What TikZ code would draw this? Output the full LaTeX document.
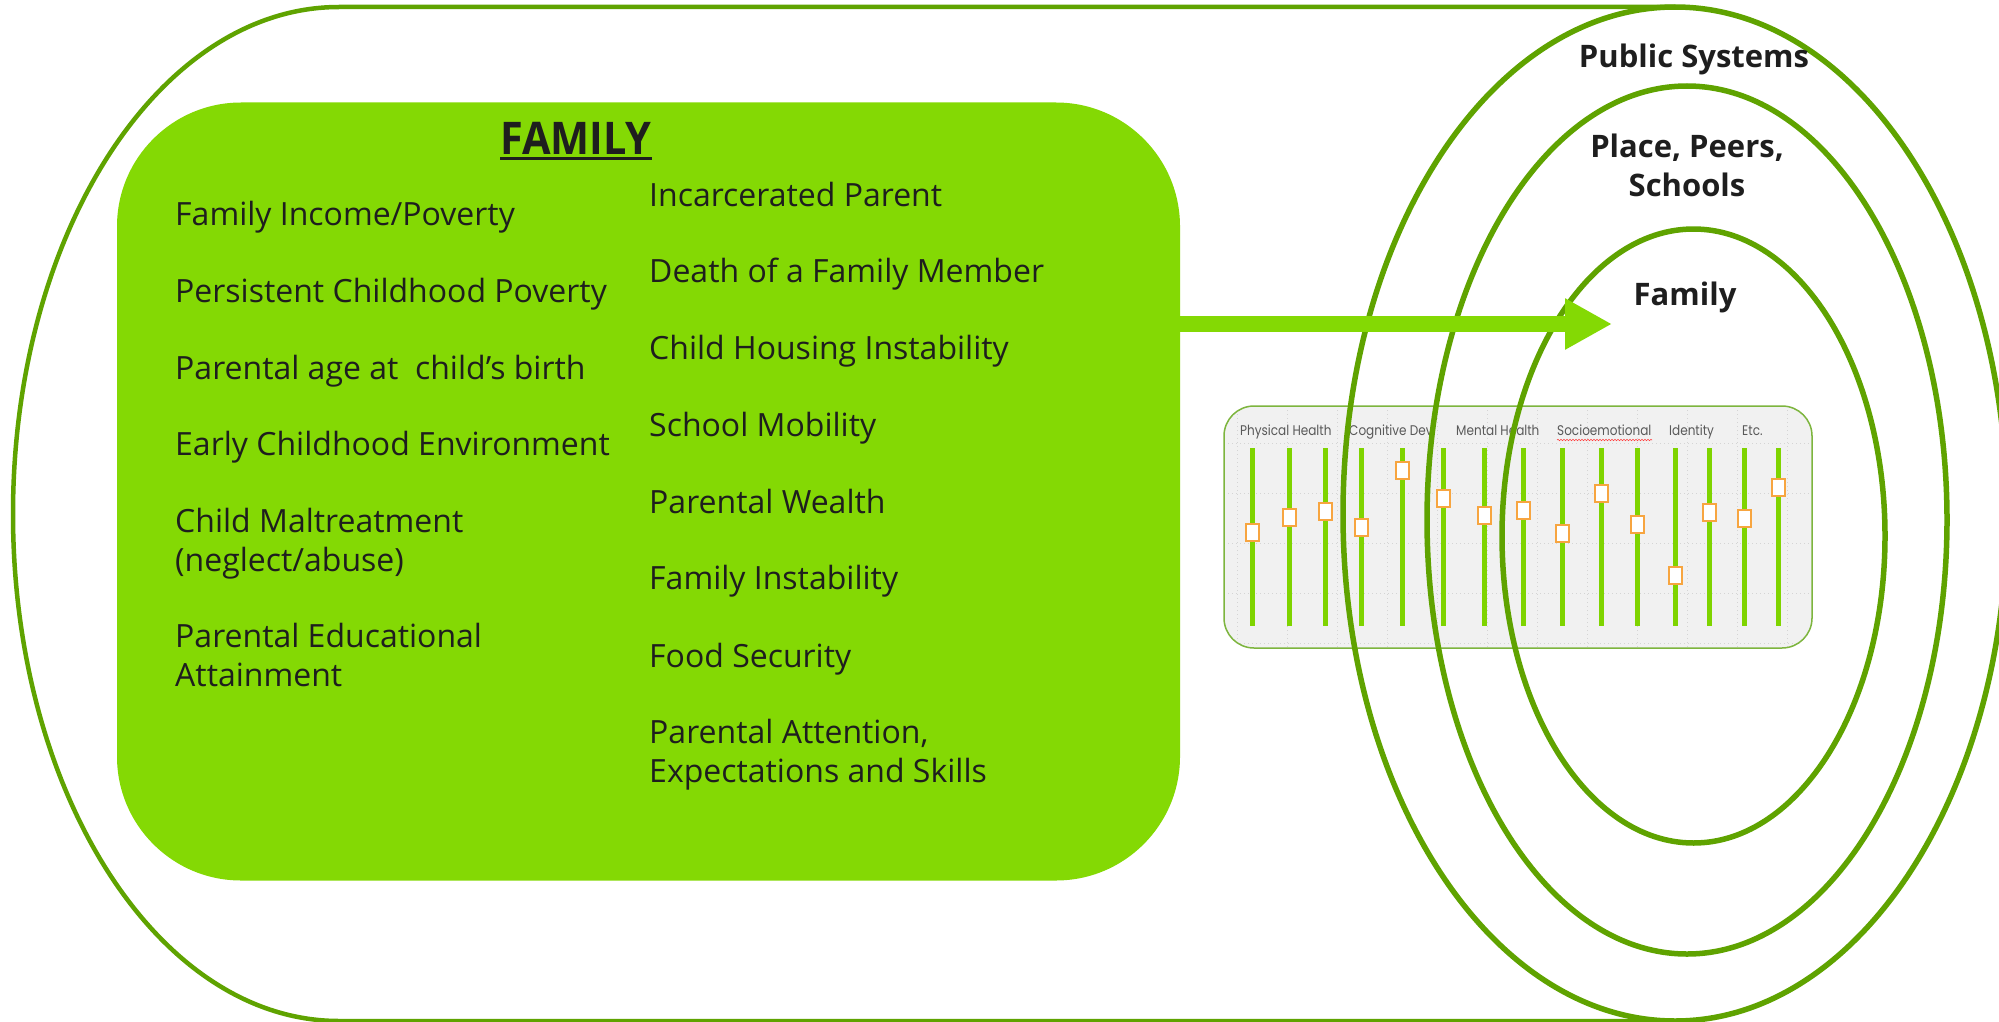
\documentclass[tikz,border=0pt]{standalone}
\usepackage{fontspec}
\setmainfont{Open Sans}
\newfontfamily\slidefont[FakeStretch=0.86]{Poppins}
\newfontfamily\titlefont[FakeStretch=0.92]{Open Sans}
\usetikzlibrary{arrows.meta,decorations.pathmorphing}
\definecolor{boxgreen}{HTML}{84D904}
\definecolor{ringgreen}{HTML}{5FA300}
\definecolor{slidegreen}{HTML}{7FD400}
\definecolor{knob}{HTML}{F7A540}
\definecolor{panelbg}{HTML}{F1F1F1}
\definecolor{panelline}{HTML}{7DB53E}
\definecolor{txt}{HTML}{1E1E1E}
\definecolor{gridgray}{HTML}{D4D4D4}
\begin{document}
\begin{tikzpicture}[x=1pt,y=-1pt,
  ring/.style={draw=ringgreen,line width=5.5pt},
  outerline/.style={draw=ringgreen,line width=4.5pt},
  fambox/.style={fill=boxgreen,rounded corners=124pt,minimum width=1063pt,minimum height=778pt,inner sep=0pt},
  item/.style={anchor=base west,inner sep=0pt,align=left,text=txt,font=\fontsize{32}{39}\selectfont},
  ringlabel/.style={anchor=base,inner sep=0pt,align=center,text=txt,font=\bfseries\fontsize{31}{39}\selectfont},
  slabel/.style={anchor=base west,inner sep=0pt,text=black!65,font=\slidefont\fontsize{14}{16}\selectfont},
  sline/.style={draw=slidegreen,line width=5pt},
  knobbox/.style={draw=knob,fill=white,line width=2pt},
  gridline/.style={draw=gridgray,line width=0.8pt,dash pattern=on 1pt off 3pt}
]
\useasboundingbox (0,0) rectangle (1999,1022);
\fill[white] (0,0) rectangle (1999,1022);

% outer stadium
\draw[outerline] (1675,7) -- (339,7) arc[start angle=90,end angle=270,x radius=326pt,y radius=507pt] -- (1675,1021);

% family box
\node[fambox] (box) at (648.5,491.5) {};
\node[anchor=base,inner sep=0pt,text=txt,font=\titlefont\bfseries\fontsize{45}{50}\selectfont] (title) at (576,154) {FAMILY};
\draw[txt,line width=3pt] ([yshift=-4pt]title.base west) -- ([yshift=-4pt]title.base east);

\node[item] (l1) at (175,225) {Family Income/Poverty};
\node[item] (l2) at (175,302) {Persistent Childhood Poverty};
\node[item] (l3) at (175,379) {Parental age at\ \ child’s birth};
\node[item] (l4) at (175,455) {Early Childhood Environment};
\node[item] (l5) at (175,571) {Child Maltreatment\\(neglect/abuse)};
\node[item] (l6) at (175,686) {Parental Educational\\Attainment};

\node[item] (r1) at (649,206) {Incarcerated Parent};
\node[item] (r2) at (649,282) {Death of a Family Member};
\node[item] (r3) at (649,359) {Child Housing Instability};
\node[item] (r4) at (649,436) {School Mobility};
\node[item] (r5) at (649,513) {Parental Wealth};
\node[item] (r6) at (649,589) {Family Instability};
\node[item] (r7) at (649,667) {Food Security};
\node[item] (r8) at (649,782) {Parental Attention,\\Expectations and Skills};

% slider panel
\path[fill=panelbg,rounded corners=30pt] (1224,406) rectangle (1812,648);
\begin{scope}
  \clip[rounded corners=30pt] (1224,406) rectangle (1812,648);
  \foreach \gx in {1237,1287,...,1787} \draw[gridline] (\gx,406) -- (\gx,648);
  \foreach \gy in {443,493,543,593,643} \draw[gridline] (1224,\gy) -- (1812,\gy);
\end{scope}
\draw[panelline,line width=1.5pt,rounded corners=30pt] (1224,406) rectangle (1812,648);

\node[slabel] (s1) at (1240,435) {Physical Health};
\node[slabel] (s2) at (1349,435) {Cognitive Dev.};
\node[slabel] (s3) at (1456,435) {Mental Health};
\node[slabel] (s4) at (1557,435) {Socioemotional};
\node[slabel] (s5) at (1669,435) {Identity};
\node[slabel] (s6) at (1742,435) {Etc.};
\draw[red!75,line width=0.6pt,decorate,decoration={snake,amplitude=0.7pt,segment length=3pt}] (1557,440) -- (1652,440);

\foreach \sx/\sy in {1252/532,1289/517,1325/511,1361/527,1402/470,1443/498,1484/515,1523/510,1562/533,1601/493,1637/524,1675/575,1709/512,1744/518,1778/487}{
  \draw[sline] (\sx,448) -- (\sx,626);
  \draw[knobbox] (\sx-6.5,\sy-8.5) rectangle (\sx+6.5,\sy+8.5);
}

% rings
\draw[ring] (1675,514) ellipse [x radius=332pt,y radius=507pt];
\draw[ring] (1687,520) ellipse [x radius=260pt,y radius=434pt];
\draw[ring] (1693.5,536) ellipse [x radius=191.5pt,y radius=307pt];

% arrow
\coordinate (tip) at (1612,324);
\draw[boxgreen,line width=16pt,-{Triangle[length=47pt,width=48pt]}] (box.east |- tip) -- (tip);

\node[ringlabel] (ps) at (1694,68) {Public Systems};
\node[ringlabel] (pp) at (1687,196) {Place, Peers,\\Schools};
\node[ringlabel] (fa) at (1685,305) {Family};
\end{tikzpicture}
\end{document}
